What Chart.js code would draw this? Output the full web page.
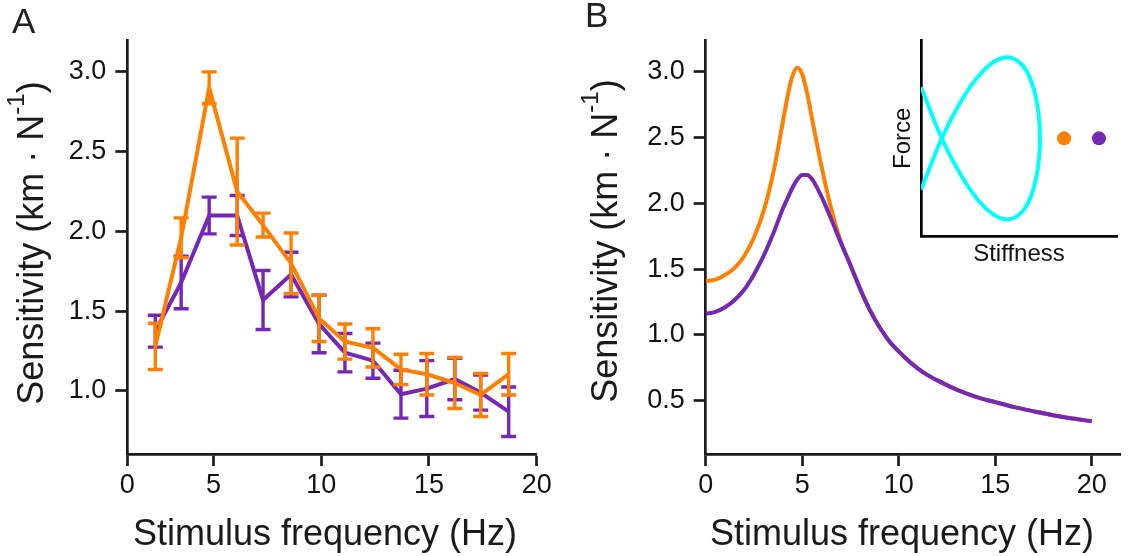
<!DOCTYPE html>
<html>
<head>
<meta charset="utf-8">
<script src="https://cdn.jsdelivr.net/npm/chart.js@4.4.1/dist/chart.umd.min.js"></script>
<style>
  html, body { margin: 0; padding: 0; background: #fff; }
  body { width: 1128px; height: 556px; position: relative; overflow: hidden; font-family: 'Liberation Sans', Arial, sans-serif; color: #1a1a1a; }
  canvas { position: absolute; }
  .lbl { position: absolute; white-space: nowrap; line-height: 1; }
  .panel { font-size: 35px; color: #222; }
  .xtitle { font-size: 36px; transform: translate(-50%, -50%); }
  .ytitle { font-size: 36px; transform: translate(-50%, -50%) rotate(-90deg); }
  .ytitle span { font-size: 24px; position: relative; top: -19px; }
</style>
</head>
<body>
<canvas id="chartA" width="560" height="556" style="left:0; top:0;"></canvas>
<canvas id="chartB" width="568" height="556" style="left:560px; top:0;"></canvas>
<canvas id="inset" width="248" height="245" style="left:880px; top:30px;"></canvas>

<div class="lbl panel" style="left:12px; top:3px;">A</div>
<div class="lbl panel" style="left:585px; top:-3px;">B</div>
<div class="lbl ytitle" style="left:31px; top:243px;">Sensitivity (km · N<span>-1</span>)</div>
<div class="lbl ytitle" style="left:605px; top:241px;">Sensitivity (km · N<span>-1</span>)</div>
<div class="lbl xtitle" style="left:325px; top:533px;">Stimulus frequency (Hz)</div>
<div class="lbl xtitle" style="left:902px; top:533px;">Stimulus frequency (Hz)</div>

<script>
// Panel A: measured sensitivity (mean and error) per stimulus frequency
const freqA = [2.3, 3.5, 4.8, 6.1, 7.3, 8.6, 9.9, 11.1, 12.4, 13.7, 14.9, 16.2, 17.4, 18.7];
const orangeA = [1.28, 1.96, 2.90, 2.25, 2.04, 1.80, 1.455, 1.31, 1.27, 1.135, 1.105, 1.05, 0.975, 1.105];
const orangeErrA = [0.145, 0.125, 0.10, 0.335, 0.075, 0.19, 0.145, 0.11, 0.12, 0.095, 0.13, 0.16, 0.135, 0.13];
const purpleA = [1.375, 1.68, 2.10, 2.10, 1.57, 1.73, 1.42, 1.24, 1.19, 0.98, 1.015, 1.075, 0.99, 0.87];
const purpleErrA = [0.10, 0.165, 0.115, 0.125, 0.185, 0.14, 0.18, 0.12, 0.11, 0.15, 0.175, 0.13, 0.11, 0.155];

const xTicksA = [1, 5, 10, 15, 20];
const xTickLabelsA = ['0', '5', '10', '15', '20'];
const yTicksA = [1.0, 1.5, 2.0, 2.5, 3.0];
const yTickLabelsA = ['1.0', '1.5', '2.0', '2.5', '3.0'];

// Panel B: model sensitivity curves
const freqB = [0, 0.5, 1, 1.5, 2, 2.5, 3, 3.5, 4, 4.25, 4.5, 4.75, 5, 5.25, 5.5, 6, 6.5, 7, 7.5, 8, 8.5, 9, 9.5, 10, 10.5, 11, 11.5, 12, 13, 14, 15, 16, 17, 18, 19, 20];
const orangeB = [1.41, 1.42, 1.455, 1.51, 1.60, 1.74, 1.94, 2.23, 2.62, 2.82, 2.97, 3.03, 2.98, 2.84, 2.65, 2.28, 1.96, 1.71, 1.53, 1.35, 1.19, 1.06, 0.955, 0.875, 0.805, 0.745, 0.695, 0.655, 0.585, 0.53, 0.49, 0.452, 0.42, 0.39, 0.365, 0.345];
const purpleB = [1.16, 1.175, 1.21, 1.265, 1.345, 1.46, 1.60, 1.77, 1.96, 2.04, 2.12, 2.18, 2.215, 2.215, 2.185, 2.05, 1.88, 1.70, 1.53, 1.35, 1.19, 1.06, 0.955, 0.875, 0.805, 0.745, 0.695, 0.655, 0.585, 0.53, 0.49, 0.452, 0.42, 0.39, 0.365, 0.345];

const xTicksB = [0, 5, 10, 15, 20];
const xTickLabelsB = ['0', '5', '10', '15', '20'];
const yTicksB = [0.5, 1.0, 1.5, 2.0, 2.5, 3.0];
const yTickLabelsB = ['0.5', '1.0', '1.5', '2.0', '2.5', '3.0'];

// Inset: force vs stiffness loop, plus two operating points
const insetStiffness = [0.1, 10.6, 20.1, 28.6, 36.2, 42.7, 48.2, 52.7, 56.2, 58.7, 60.2, 60.7, 60.2, 58.7, 56.2, 52.7, 48.2, 42.7, 36.2, 28.6, 20.1, 10.6, 0.1];
const insetForce = [76.0, 50.0, 31.7, 19.2, 11.8, 8.9, 9.9, 14.0, 20.8, 29.5, 39.4, 50.0, 60.6, 70.5, 79.2, 86.0, 90.1, 91.1, 88.2, 80.8, 68.3, 50.0, 24.0];
const orangePoint = [73, 50];
const purplePoint = [90.8, 50];

const ORANGE = '#ff8000';
const PURPLE = '#7528b5';
const CYAN = '#00ffff';
const AXIS = '#1c1c1c';

Chart.defaults.font.family = "'Liberation Sans', Arial, sans-serif";
Chart.defaults.color = '#111';

const toPoints = (xs, ys) => xs.map((x, i) => ({ x: x, y: ys[i] }));

// draws vertical error bars with caps after each dataset that has errors
const errorBars = {
    id: 'errorBars',
    afterDatasetDraw(chart, args) {
        const ds = chart.data.datasets[args.index];
        if (!ds.errors) return;
        const ctx = chart.ctx;
        const { x, y } = chart.scales;
        ctx.save();
        ctx.strokeStyle = ds.borderColor;
        ctx.lineWidth = 3.4;
        ds.data.forEach((p, i) => {
            const px = x.getPixelForValue(p.x);
            const top = y.getPixelForValue(p.y + ds.errors[i]);
            const bot = y.getPixelForValue(p.y - ds.errors[i]);
            ctx.beginPath();
            ctx.moveTo(px, top);
            ctx.lineTo(px, bot);
            ctx.moveTo(px - 7.5, top);
            ctx.lineTo(px + 7.5, top);
            ctx.moveTo(px - 7.5, bot);
            ctx.lineTo(px + 7.5, bot);
            ctx.stroke();
        });
        ctx.restore();
    }
};

const mainAxis = (ticks, labels, extra) => Object.assign({
    type: 'linear',
    afterBuildTicks: s => { s.ticks = ticks.map(v => ({ value: v })); },
    ticks: {
        callback: (v, i) => labels[i],
        font: { size: 27 },
        color: '#111',
        maxRotation: 0,
        autoSkip: false
    },
    grid: { drawOnChartArea: false, tickLength: 12, tickWidth: 2.7, tickColor: AXIS },
    border: { color: AXIS, width: 2.7 }
}, extra);

const baseOptions = {
    responsive: false,
    animation: false,
    plugins: { legend: { display: false }, tooltip: { enabled: false } },
    elements: { point: { radius: 0 } }
};

// Panel A
new Chart(document.getElementById('chartA'), {
    type: 'line',
    data: {
        datasets: [
            { data: toPoints(freqA, orangeA), errors: orangeErrA, borderColor: ORANGE, borderWidth: 4, borderJoinStyle: 'round', tension: 0 },
            { data: toPoints(freqA, purpleA), errors: purpleErrA, borderColor: PURPLE, borderWidth: 4, borderJoinStyle: 'round', tension: 0 }
        ]
    },
    options: Object.assign({}, baseOptions, {
        layout: { padding: { top: 40, right: 23.3, bottom: 0, left: 0 } },
        scales: {
            x: mainAxis(xTicksA, xTickLabelsA, { min: 1, max: 20, afterFit: s => { s.height = 102; } }),
            y: mainAxis(yTicksA, yTickLabelsA, { min: 0.605, max: 3.2, afterFit: s => { s.width = 127.3; } })
        }
    }),
    plugins: [errorBars]
});
Chart.getChart('chartA').options.scales.x.ticks.padding = 3;
Chart.getChart('chartA').options.scales.y.ticks.padding = 9;
Chart.getChart('chartA').update();

// Panel B
new Chart(document.getElementById('chartB'), {
    type: 'line',
    data: {
        datasets: [
            { data: toPoints(freqB, purpleB), borderColor: PURPLE, borderWidth: 4, cubicInterpolationMode: 'monotone' },
            { data: toPoints(freqB, orangeB), borderColor: ORANGE, borderWidth: 4, cubicInterpolationMode: 'monotone' }
        ]
    },
    options: Object.assign({}, baseOptions, {
        layout: { padding: { top: 40, right: 7.3, bottom: 0, left: 0 } },
        scales: {
            x: mainAxis(xTicksB, xTickLabelsB, { min: 0, max: 21.5, afterFit: s => { s.height = 102; } }),
            y: mainAxis(yTicksB, yTickLabelsB, { min: 0.096, max: 3.24, afterFit: s => { s.width = 145.7; } })
        }
    })
});
Chart.getChart('chartB').options.scales.x.ticks.padding = 3;
Chart.getChart('chartB').options.scales.y.ticks.padding = 9;
Chart.getChart('chartB').update();

// Inset
new Chart(document.getElementById('inset'), {
    type: 'scatter',
    data: {
        datasets: [
            { data: toPoints(insetStiffness, insetForce), showLine: true, borderColor: CYAN, borderWidth: 4, tension: 0.4, pointRadius: 0 },
            { data: [{ x: orangePoint[0], y: orangePoint[1] }], pointRadius: 7, pointBackgroundColor: ORANGE, pointBorderWidth: 0 },
            { data: [{ x: purplePoint[0], y: purplePoint[1] }], pointRadius: 7, pointBackgroundColor: PURPLE, pointBorderWidth: 0 }
        ]
    },
    options: Object.assign({}, baseOptions, {
        layout: { padding: { top: 10, right: 11, bottom: 0, left: 0 } },
        scales: {
            x: {
                type: 'linear', min: 0, max: 100,
                ticks: { display: false },
                grid: { drawOnChartArea: false, drawTicks: false },
                border: { color: '#000', width: 2.7 },
                title: { display: true, text: 'Stiffness', font: { size: 24 }, color: '#111', padding: { top: 0, bottom: 6 } },
                afterFit: s => { s.height = 38.3; }
            },
            y: {
                type: 'linear', min: 0, max: 100,
                ticks: { display: false },
                grid: { drawOnChartArea: false, drawTicks: false },
                border: { color: '#000', width: 2.7 },
                title: { display: true, text: 'Force', font: { size: 24 }, color: '#111', padding: { top: 8.6, bottom: 0 } },
                afterFit: s => { s.width = 41; }
            }
        }
    })
});
</script>
</body>
</html>
